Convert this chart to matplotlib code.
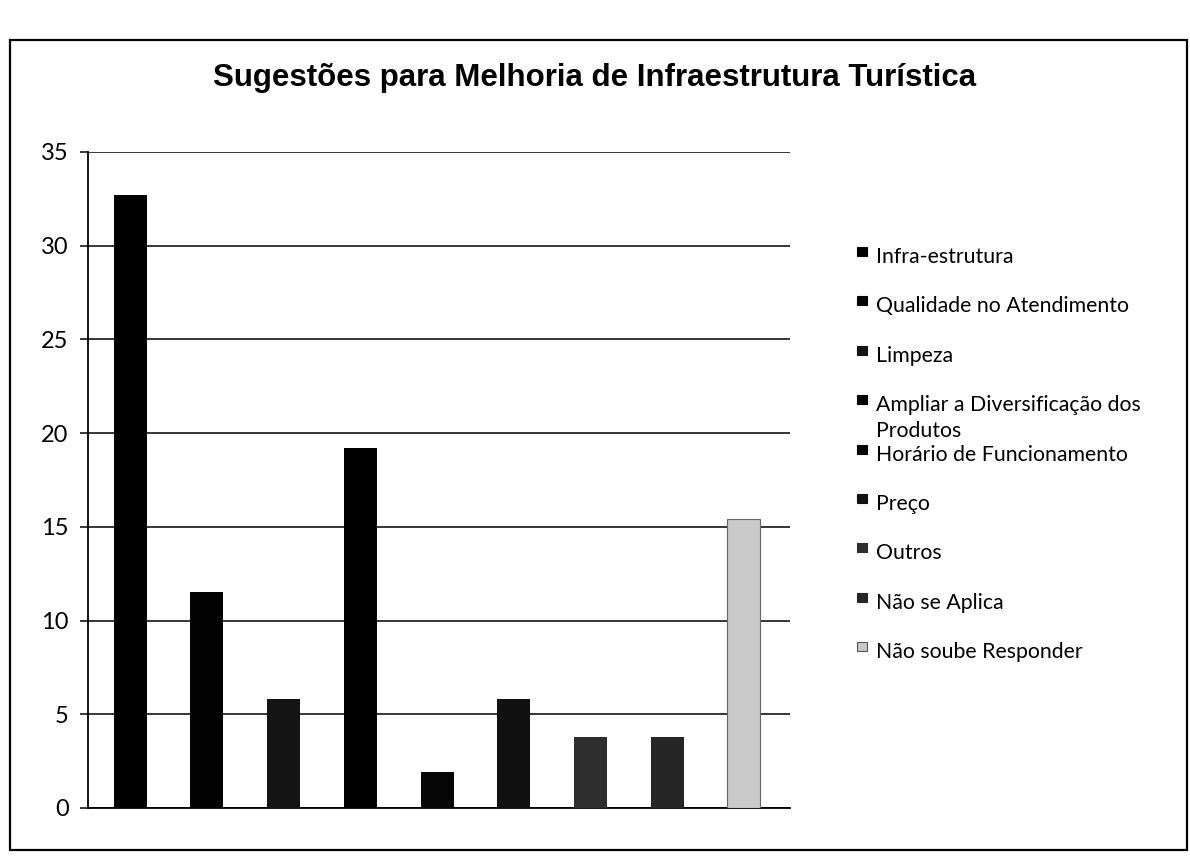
import matplotlib.pyplot as plt
from matplotlib.patches import Rectangle

# percentuais por sugestão
categorias = ['Infra-estrutura', 'Qualidade no Atendimento', 'Limpeza',
              'Ampliar a Diversificação dos\nProdutos', 'Horário de Funcionamento',
              'Preço', 'Outros', 'Não se Aplica', 'Não soube Responder']
valores = [32.7, 11.5, 5.8, 19.2, 1.9, 5.8, 3.8, 3.8, 15.4]
cores = ['#000000', '#030303', '#141414', '#000000', '#050505',
         '#111111', '#2e2e2e', '#262626', '#c9c9c9']
yticks = [0, 5, 10, 15, 20, 25, 30, 35]

W, H = 1190, 860
fig = plt.figure(figsize=(W / 100, H / 100), dpi=100)

def fx(px):
    return px / W

def fy(py):
    return 1 - py / H

# moldura externa
fig.patches.append(Rectangle((fx(10), fy(850)), fx(1177), 810 / H, transform=fig.transFigure,
                             fill=False, edgecolor='black', linewidth=1.6))

fig.text(0.5, fy(78), 'Sugestões para Melhoria de Infraestrutura Turística', ha='center',
         va='center', fontsize=22.5, fontweight='bold', family='Liberation Sans')

ax = fig.add_axes([fx(88), fy(808), fx(790 - 88), (808 - 152) / H])
x = range(len(valores))
ax.bar(x, valores, width=0.43, color=cores, zorder=3)
ax.patches[-1].set_edgecolor('#666666')
ax.patches[-1].set_linewidth(0.8)

ax.set_xlim(-0.55, 8.6)
ax.set_ylim(0, 35)
ax.set_yticks(yticks)
ax.set_xticks([])
ax.grid(axis='y', color='black', linewidth=1.1, zorder=0)
ax.set_axisbelow(True)
for s in ['top', 'right']:
    ax.spines[s].set_visible(False)
ax.spines['left'].set_linewidth(1.3)
ax.spines['bottom'].set_linewidth(1.3)
ax.tick_params(axis='y', length=6, width=1.1, pad=8, labelsize=17)
for lab in ax.get_yticklabels():
    lab.set_family('Lato')

# legenda desenhada item a item
for i, (cat, cor) in enumerate(zip(categorias, cores)):
    base = 263 + 49.4 * i
    fig.patches.append(Rectangle((fx(857), fy(base - 7)), fx(10), 9 / H, transform=fig.transFigure,
                                 facecolor=cor, edgecolor='#555555' if cor == '#c9c9c9' else cor,
                                 linewidth=0.8))
    for j, linha in enumerate(cat.split('\n')):
        fig.text(fx(876), fy(base + 26 * j), linha, ha='left', va='baseline',
                 fontsize=15.3, family='Lato')

fig.savefig('out.png', dpi=100, facecolor='white')
